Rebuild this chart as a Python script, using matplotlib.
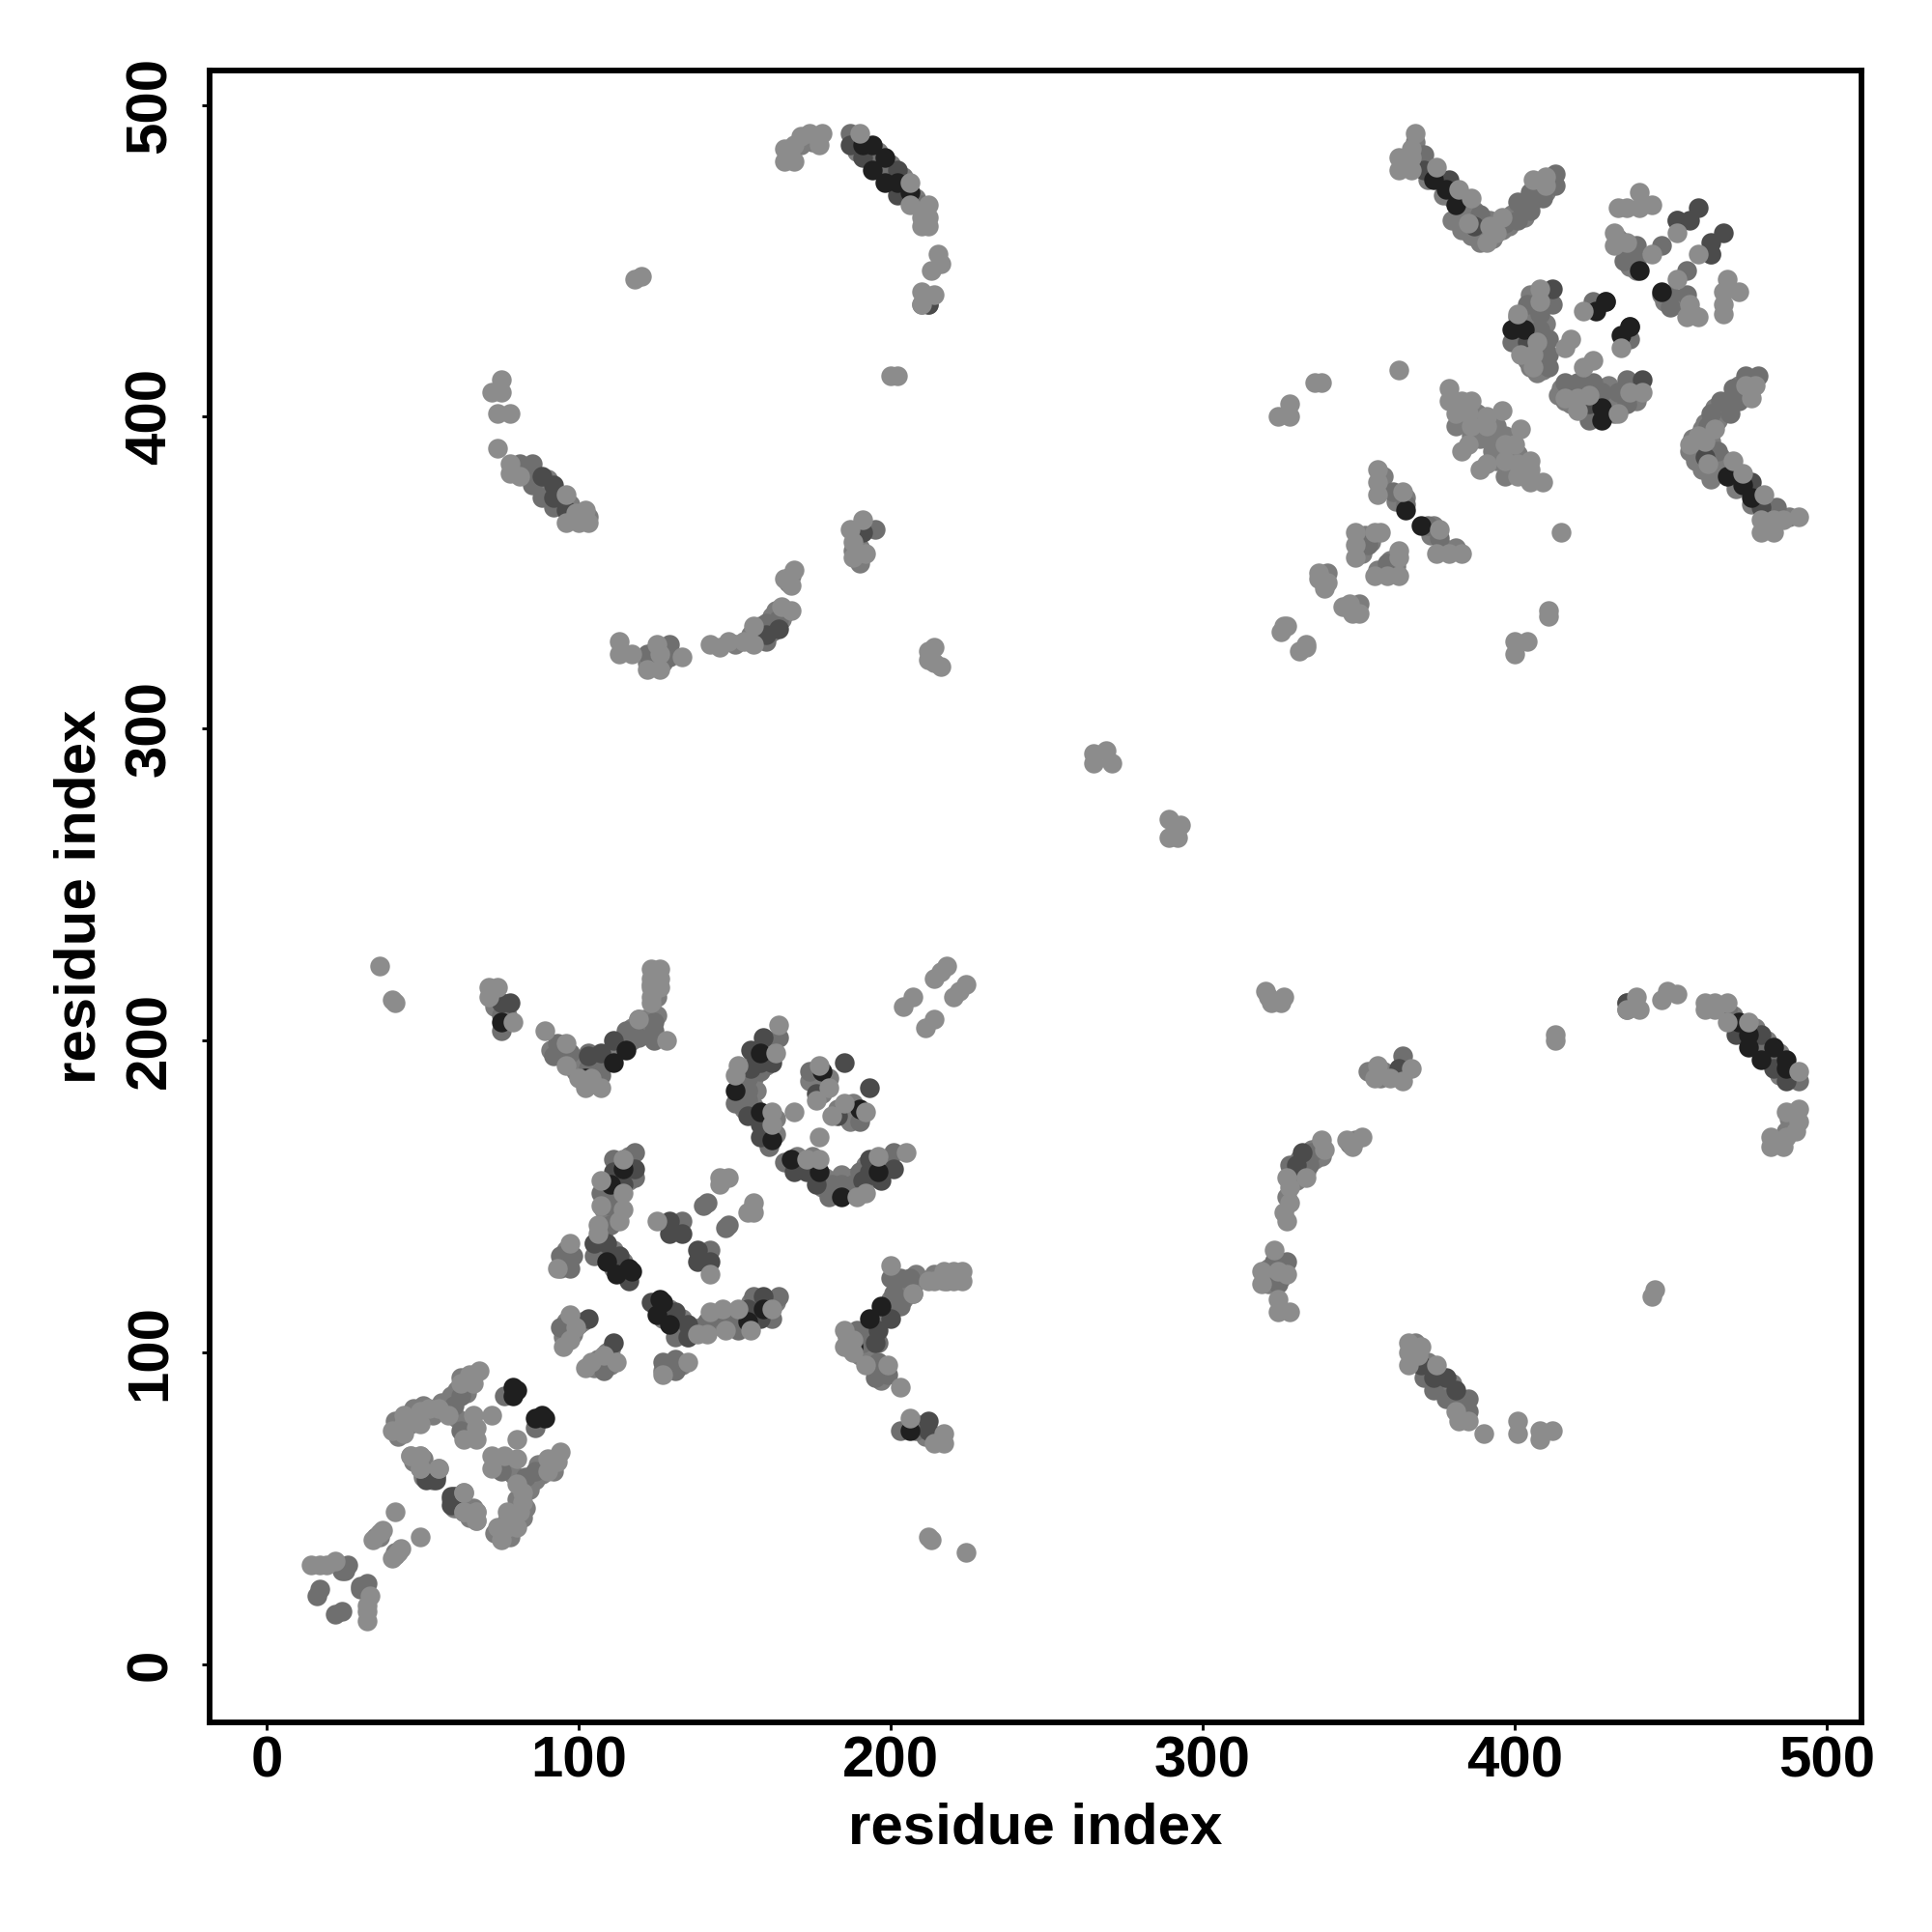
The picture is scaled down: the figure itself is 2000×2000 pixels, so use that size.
import matplotlib
matplotlib.use('Agg')
import matplotlib.pyplot as plt

# residue contacts, one (i, j) per point with i < j
# the map is symmetric so every contact is drawn at (i, j) and (j, i)

light = [(14,32),(17,32),(19,32),(22,33),(34,40),(36,42),(37,43),(36,224),(40,213),(41,212),
         (40,75),(44,80),(44,77),(44,74),(49,77),(49,81),(52,82),(55,82),(62,90),(65,93),(68,94),(66,90),
         (58,80),(66,80),(67,76),(67,72),(63,72),(46,67),(49,67),(49,63),(55,63),(63,55),(63,49),(67,49),(67,46),
         (72,80),(41,49),
         (89,203),(96,199),(96,192),(100,188),(104,188),(102,185),(107,185),(128,200),
         (123,223),(126,223),(123,220),(126,220),(123,217),(126,217),(123,214),(123,212),(119,207),
         (164,205),(163,196),(151,192),(150,189),(162,177),(162,173),(169,177),(177,192),(180,185),(176,181),
         (114,162),(107,155),(114,151),(107,147),(114,146),(113,142),(106,141),(106,138),
         (97,135),(93,127),(125,142),(145,154),(148,156),(145,156),(99,108),(95,102),(97,104),(97,112),
         (204,211),(207,214),(214,220),(216,222),(218,224),
         (178,491),(174,491),(171,490),(169,487),(166,486),(169,482),(166,482),(177,487),
         (190,491),(206,475),(206,468),(212,468),(212,464),(210,464),(210,461),(212,461),
         (215,452),(216,449),(213,447),(210,440),(214,439),(210,436),(118,444),(120,445),
         (200,413),(202,413),(75,412),(75,408),(72,408),(74,401),(78,401),(74,390),
         (78,385),(78,382),(81,381),(96,375),(96,366),(99,369),(102,370),(103,366),(100,366),
         (191,367),(187,364),(188,360),(188,355),(192,356),(169,351),(166,348),(168,346),
         (168,338),(165,339),(156,333),(156,327),(153,328),(148,328),(145,326),(142,327),
         (125,327),(126,324),(133,323),(122,319),(126,319),(113,328),(113,324),(117,324),
         (214,326),(212,325),(212,322),(216,320),(214,321),
         (71,217),(74,217),(71,214),(79,206),(265,289),(265,292),(269,293),(271,289),
         (336,411),(338,411),(328,404),(324,400),(328,400),(363,415),
         (379,409),(379,405),(383,405),(386,405),(381,401),(385,401),(391,400),(396,402),(391,397),(386,397),(383,389),(385,391),
         (356,383),(356,379),(356,375),(364,376),(349,363),(355,363),(357,363),(349,359),(349,355),
         (337,350),(340,347),(339,345),(337,348),(326,333),(325,331),(327,333),
         (368,491),(363,483),(363,479),(367,479),(367,486),(367,483),(375,480),(382,473),(386,470),(385,462),
         (391,456),(392,461),(394,459),(396,464),(406,476),(410,477),(410,474),
         (408,441),(408,437),(401,433),(402,420),(406,420),(407,424),(406,416),(418,425),(416,422),(422,434),
         (440,472),(444,468),(440,467),(436,467),(433,467),(432,459),(432,455),(436,456),(452,459),(444,452)]

mid = [(26,32),(25,30),(24,30),(17,24),(16,22),(62,86),(60,83),(62,75),(52,60),(76,86),
       (93,199),(92,195),(97,196),(103,196),(103,191),(107,189),(107,192),(115,203),(119,201),(119,207),(124,206),(124,203),(124,200),
       (154,184),(154,181),(150,180),(158,190),(154,188),(161,166),(164,201),(174,190),
       (118,164),(118,156),(111,162),(107,151),(111,151),(110,147),(110,141),(105,135),(105,131),
       (94,131),(98,131),(97,127),(133,142),(140,147),(141,148),(94,108),
       (187,491),(194,483),(198,479),(210,468),(212,436),(210,436),
       (81,385),(85,385),(84,381),(85,378),(88,374),(92,371),
       (195,364),(164,335),(160,334),(160,328),(129,323),(122,324),(129,327),
       (75,203),(75,208),(361,376),(365,372),(353,359),(371,484),(389,465),(397,462),(401,469),(401,463),(405,466),(405,472),(409,470),(413,478),(413,474),
       (412,436),(404,436),(408,433),(408,428),(399,424),(411,425),(411,420),(411,416),(425,437),
       (439,455),(439,450),(435,450),(452,463),(447,455)]

dark = [(54,60),(59,54),(59,51),(103,111),(107,196),(111,200),(103,195),(102,188),
        (159,201),(162,193),(155,197),(158,193),(155,191),(154,176),(158,173),(158,169),(185,193),(176,183),
        (118,159),(111,158),(114,154),(105,135),(109,135),(113,131),(116,123),
        (129,142),(133,138),(129,138),
        (187,487),(191,483),(202,479),(202,471),(212,436),
        (88,381),(92,378),(92,374),(96,370),(191,363),(164,332),(160,330),
        (75,212),(78,212),(371,479),(379,476),(387,461),(404,424),(452,463),(456,463),(459,467),(412,441),(429,437)]

vdark = [(79,89),(79,86),(80,88),(111,193),(115,197),(102,188),(158,196),(150,184),(158,177),(162,168),(178,190),
         (114,159),(110,154),(109,129),(116,127),(117,126),(112,125),
         (191,487),(194,487),(194,479),(198,483),(198,475),(202,475),(206,472),
         (75,206),(365,370),(374,476),(378,473),(381,468),(399,428),(403,428),(440,447),(426,434),(429,437)]

# contacts hidden inside the dense patches, drawn first underneath the others
under = [(41,75),(41,78),(42,73),(46,77),(47,80),(47,82),(50,83),(53,80),(56,84),(59,86),(61,88),(62,92),(64,87),
         (61,79),(64,78),(65,76),(65,73),(48,65),(51,63),(60,52),(61,54),(65,47),(66,50),(35,41),(36,41),
         (59,53),(61,50),(52,61),(50,60),(53,62),
         (386,394),(388,398),(389,393),(391,394),(388,401),(383,403),(392,399),(394,397),(381,397),
         (392,463),(394,462),(393,457),(389,459),(388,463),(396,460),(398,461),(399,465),(402,467),(403,464),(404,468),
         (407,470),(407,473),(410,472),(412,476),
         (401,428),(402,425),(401,432),(403,421),(404,418),(405,416),(406,426),(406,430),(405,433),(405,439),(408,434),
         (409,418),(407,414),(409,415),(410,430),(409,422),
         (365,481),(369,481),(368,488),(372,476),(377,471),(380,470),(383,464),(387,466),(386,458),(389,456),(392,458),(390,461),
         (380,463),(384,467),(383,460),
         (152,187),(152,183),(153,178),(156,179),(157,184),(156,188),(160,192),(160,199),(160,174),(160,170),(163,170),(163,175),
         (152,190),(156,194),(161,198),(176,187),(178,187),(178,183),(176,190),(180,188),(174,187),
         (108,146),(108,150),(112,148),(112,153),(116,155),(116,160),(116,163),(112,156),(112,160),(109,145),(108,139),(111,144),
         (107,133),(107,137),(111,133),(110,131),(114,129),(113,127),(114,125),(111,127),
         (91,197),(94,197),(98,193),(99,190),(103,186),(105,186),(105,190),(109,194),(113,198),(117,200),(117,204),(121,204),
         (122,202),(125,208),(105,193),(121,207),(123,218),(125,221),(125,214),
         (130,141),(131,140),(132,139),(94,127),(95,130),(96,133),(95,105),(96,110),(100,109),(98,106),(101,110),
         (188,488),(192,485),(196,481),(196,485),(200,477),(200,481),(204,473),(204,477),(208,470),(189,485),(211,462),(211,466),
         (168,484),(171,487),(172,489),(175,488),(167,484),
         (80,383),(83,383),(87,379),(90,376),(90,380),(94,372),(97,372),(101,367),(101,369),(103,368),(88,377),
         (158,329),(162,331),(158,333),(162,336),(166,337),(165,335),(163,338),(150,327),(155,330),(160,332),
         (122,321),(124,325),(127,321),(127,325),(123,321),
         (188,357),(189,362),(189,364),(190,358),(190,353),(168,349),(167,347),
         (365,374),(362,373),(358,377),(352,362),(350,361),(354,360),(351,356),(338,348),(339,348),(340,350),
         (434,455),(436,452),(437,451),(433,457),(437,448),(439,447),(358,381),(357,377),
         (72,215),(73,211),(75,210),(77,208)]

ticks = [0, 100, 200, 300, 400, 500]

plt.rcParams['font.family'] = ['Liberation Sans', 'DejaVu Sans']
plt.rcParams['font.weight'] = 'bold'

fig = plt.figure(figsize=(6.6667, 6.6667), dpi=300)
ax = fig.add_axes([217/2000, 1 - 1783/2000, 1710/2000, 1710/2000])

# lights sit over the darks in most of the overlaps, but not all of them
shades = [('#7c7c7c', under), ('#6f6f6f', mid), ('#4b4b4b', dark), ('#1f1f1f', vdark), ('#8c8c8c', light)]
for color, pairs in shades:
    i = [p[0] for p in pairs]
    j = [p[1] for p in pairs]
    ax.scatter(i + j, j + i, s=24, c=color, linewidths=0, zorder=2)

ax.set_xlim(-18.4, 511.2)
ax.set_ylim(-18.6, 511.0)
ax.set_xticks(ticks)
ax.set_yticks(ticks)
ax.set_yticklabels(ticks, rotation=90, va='center')
ax.tick_params(length=2.0, width=0.7, labelsize=14.4)
ax.tick_params(axis='x', pad=1.2)
ax.tick_params(axis='y', pad=6)
for s in ax.spines.values():
    s.set_linewidth(1.4)
ax.set_xlabel('residue index', fontsize=14.4, fontweight='bold', labelpad=3.3)
ax.set_ylabel('residue index', fontsize=14.4, fontweight='bold', labelpad=4.3)

fig.savefig('out.png', dpi=300)
